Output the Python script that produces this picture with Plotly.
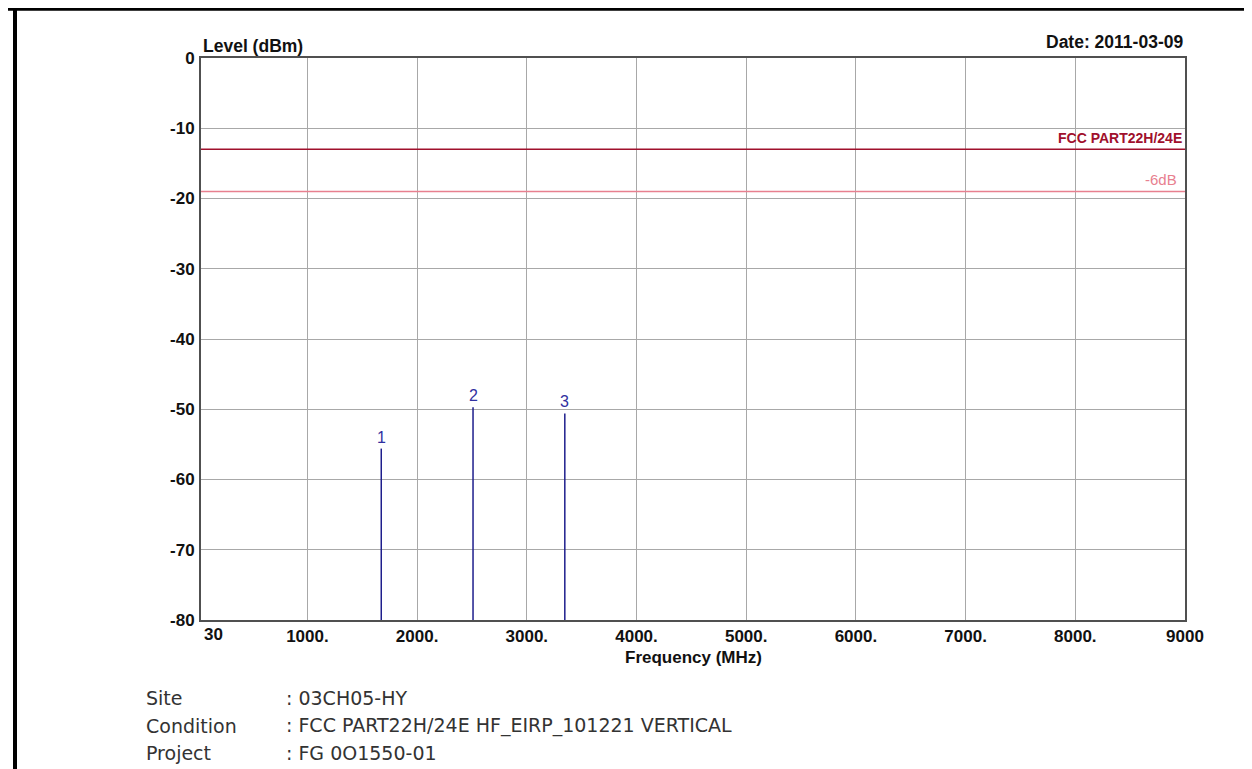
import plotly.graph_objects as go

# ---- data ----
marker_ids = ["1", "2", "3"]
marker_freq = [1673.2, 2509.8, 3346.4]      # MHz
marker_level = [-55.6, -49.7, -50.6]        # dBm

limit_name = "FCC PART22H/24E"
limit_level = -13.0
margin_name = "-6dB"
margin_level = -19.0

x_range = [30, 9000]
y_range = [-80, 0]
x_tickvals = [1000, 2000, 3000, 4000, 5000, 6000, 7000, 8000, 9000]
x_ticktext = ["1000.", "2000.", "3000.", "4000.", "5000.", "6000.", "7000.", "8000.", "9000"]
y_tickvals = [0, -10, -20, -30, -40, -50, -60, -70, -80]
y_ticktext = ["0", "-10", "-20", "-30", "-40", "-50", "-60", "-70", "-80"]

info_labels = ["Site", "Condition", "Project"]
info_values = [": 03CH05-HY", ": FCC PART22H/24E HF_EIRP_101221 VERTICAL", ": FG 0O1550-01"]
date_text = "Date: 2011-03-09"

# ---- layout geometry ----
W, H = 1252, 769
L, R, T, B = 193, 1177, 50, 612

def px(xp):
    return (xp - L) / (R - L)

def py(yp):
    return (B - yp) / (B - T)

fig = go.Figure()

# limit lines
fig.add_trace(go.Scatter(x=x_range, y=[limit_level, limit_level], mode="lines",
                         line=dict(color="#a0102c", width=1.5), hoverinfo="skip", showlegend=False))
fig.add_trace(go.Scatter(x=x_range, y=[margin_level, margin_level], mode="lines",
                         line=dict(color="#e8808f", width=1.5), hoverinfo="skip", showlegend=False))

# marker lines
for mid, f, lv in zip(marker_ids, marker_freq, marker_level):
    fig.add_trace(go.Scatter(x=[f, f], y=[y_range[0], lv], mode="lines",
                             line=dict(color="#1e1e8c", width=1.5), hoverinfo="skip", showlegend=False))
    fig.add_annotation(x=f, y=lv, xref="x", yref="y", text=mid, showarrow=False,
                       yanchor="bottom", yshift=1,
                       font=dict(family="Liberation Sans, Arial", size=16, color="#3030a0"))

sans = "Liberation Sans, Arial"

fig.add_annotation(x=1, y=limit_level, xref="paper", yref="y", text="<b>" + limit_name + "</b>",
                   showarrow=False, xanchor="right", yanchor="bottom", yshift=1, xshift=-1,
                   font=dict(family=sans, size=14, color="#a0102c"))
fig.add_annotation(x=1, y=margin_level, xref="paper", yref="y", text=margin_name,
                   showarrow=False, xanchor="right", yanchor="bottom", xshift=-6, yshift=1,
                   font=dict(family=sans, size=15, color="#e8808f"))

# axis titles and date
fig.add_annotation(x=0, y=1, xref="paper", yref="paper", text="<b>Level (dBm)</b>",
                   showarrow=False, xanchor="left", yanchor="bottom", yshift=0,
                   font=dict(family=sans, size=17.5, color="#111111"))
fig.add_annotation(x=1, y=1, xref="paper", yref="paper", text="<b>" + date_text + "</b>",
                   showarrow=False, xanchor="right", yanchor="bottom", yshift=4,
                   font=dict(family=sans, size=17.5, color="#111111"))
fig.add_annotation(x=0.5, y=py(649), xref="paper", yref="paper", text="<b>Frequency (MHz)</b>",
                   showarrow=False, xanchor="center", yanchor="middle",
                   font=dict(family=sans, size=17, color="#111111"))
fig.add_annotation(x=x_range[0], y=py(626), xref="x", yref="paper", text="<b>30</b>",
                   showarrow=False, xanchor="left", yanchor="middle", xshift=1,
                   font=dict(family=sans, size=17, color="#111111"))

# footer info
for i, (lab, val) in enumerate(zip(info_labels, info_values)):
    yy = py(690 + 27.5 * i)
    fig.add_annotation(x=px(136), y=yy, xref="paper", yref="paper", text=lab, showarrow=False,
                       xanchor="left", yanchor="middle",
                       font=dict(family="DejaVu Sans", size=19, color="#333333"))
    fig.add_annotation(x=px(276), y=yy, xref="paper", yref="paper", text=val, showarrow=False,
                       xanchor="left", yanchor="middle",
                       font=dict(family="DejaVu Sans", size=19, color="#333333"))

# page frame
fig.add_shape(type="line", xref="paper", yref="paper", x0=px(0), x1=px(W), y0=py(1.2), y1=py(1.2),
              line=dict(color="#000000", width=3))
fig.add_shape(type="line", xref="paper", yref="paper", x0=px(7), x1=px(7), y0=py(0), y1=py(H),
              line=dict(color="#000000", width=4))
fig.add_shape(type="line", xref="paper", yref="paper", x0=px(1249.5), x1=px(1249.5), y0=py(0), y1=py(H),
              line=dict(color="#000000", width=2.5))

fig.update_layout(
    width=W, height=H,
    margin=dict(l=L, r=W - R, t=T, b=H - B, autoexpand=False),
    paper_bgcolor="white", plot_bgcolor="white",
    showlegend=False,
    xaxis=dict(range=x_range, tickmode="array", tickvals=x_tickvals, ticktext=x_ticktext,
               showgrid=True, gridcolor="#a8a8a8", gridwidth=1, zeroline=False,
               showline=True, linecolor="#505050", linewidth=2, mirror=True, ticks="",
               tickfont=dict(family=sans, size=17, color="#111111", weight="bold"),
               fixedrange=True),
    yaxis=dict(range=y_range, tickmode="array", tickvals=y_tickvals, ticktext=y_ticktext,
               showgrid=True, gridcolor="#a8a8a8", gridwidth=1, zeroline=False,
               showline=True, linecolor="#505050", linewidth=2, mirror=True, ticks="",
               ticklabelstandoff=1,
               tickfont=dict(family=sans, size=17, color="#111111", weight="bold"),
               fixedrange=True),
)

fig.write_html("out.html")
